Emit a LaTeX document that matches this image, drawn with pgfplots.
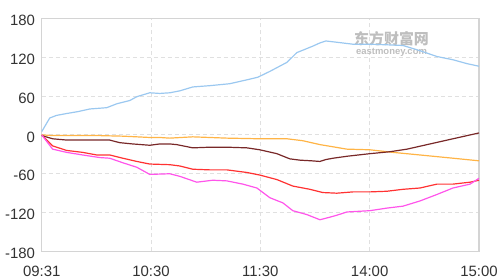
\documentclass[border=0pt]{standalone}
\usepackage{pgfplots}
\pgfplotsset{compat=1.18}
\usepackage{fontspec}
\setmainfont{Liberation Sans}
\newfontfamily\cjk{Noto Sans CJK SC}
\definecolor{cblue}{RGB}{155,200,240}
\definecolor{corange}{RGB}{255,180,70}
\definecolor{cbrown}{RGB}{120,40,40}
\definecolor{cred}{RGB}{255,50,50}
\definecolor{cmag}{RGB}{255,85,235}
\definecolor{txt}{RGB}{51,51,51}
\definecolor{gridc}{RGB}{224,224,224}
\definecolor{axc}{RGB}{212,212,212}
\definecolor{wm}{RGB}{190,190,190}
\begin{document}
\begin{tikzpicture}
\begin{axis}[
  name=ax,
  scale only axis,
  width=437.3bp, height=233.2bp,
  xmin=0, xmax=240, ymin=-180, ymax=180,
  xtick={0,60,120,180,240},
  xticklabels={09:31,10:30,11:30,14:00,15:00},
  ytick={-180,-120,-60,0,60,120,180},
  yticklabels={-180,-120,-60,0,60,120,180},
  major tick length=0pt,
  grid=major,
  major grid style={gridc, line width=0.9bp, dash pattern=on 4bp off 3bp},
  axis line style={axc, line width=1.2bp},
  tick label style={font=\fontsize{15}{18}\selectfont, text=txt, inner sep=0pt},
  yticklabel style={anchor=east, xshift=-6.5bp, yshift=-2bp},
  xticklabel style={anchor=north, yshift=-14.5bp},
  every axis plot/.append style={line width=1.2bp, no markers},
]
\node[text=wm, inner sep=0pt, font=\cjk\bfseries\fontsize{15}{15}\selectfont] at (rel axis cs:0.80,0.912) {东方财富网};
\node[text=wm, inner sep=0pt, font=\bfseries\fontsize{9.5}{10}\selectfont] at (rel axis cs:0.80,0.855) {eastmoney.com};

% blue
\addplot[cblue] coordinates {
(0,5) (4.4,26) (8,30) (13.7,33) (20,36) (26.4,40) (35.7,42) (41.2,48) (48.3,53) (52.2,59) (59.3,65)
(64.8,64) (70.3,65) (75.8,68) (82.9,74) (92.3,76) (103.2,79) (112.6,85) (118.6,89) (125.2,98)
(134.6,112) (140,127) (148.8,137) (152.7,142) (156,145) (162,143) (170.8,140) (180.1,140)
(190,139) (198.3,138) (207.6,130) (216.9,121) (225.7,116) (233.4,110) (240,106)};
% orange
\addplot[corange] coordinates {
(0,0) (6,-1) (30,-1) (45,-2) (59.3,-4) (64.8,-4) (70.3,-5) (82.9,-3) (101.6,-5) (119.7,-6)
(134.6,-6) (143.3,-9) (152.7,-15) (167.5,-22) (180.1,-23) (192.8,-27) (207.6,-31) (225.7,-36) (240,-40)};
% brown
\addplot[cbrown] coordinates {
(0,-1) (6,-6) (13.7,-8) (28,-8) (37.3,-8) (42.8,-12) (50,-14) (59.3,-16) (64.8,-14) (70.3,-14)
(74.1,-15) (82.9,-20) (92.3,-19) (101.6,-19) (112.6,-20) (119.7,-23) (129.1,-29) (136.2,-37)
(141.7,-39) (148,-40) (152.7,-41) (156,-38) (160,-36) (167.5,-33) (180.1,-29) (191.1,-26)
(200.5,-22) (213.1,-14) (225.7,-6) (240,3)};
% red
\addplot[cred] coordinates {
(0,0) (6,-17) (13.7,-24) (22.5,-27) (30.2,-31) (37.3,-31) (44.5,-36) (52.2,-41) (59.3,-45)
(70.3,-46) (75.8,-48) (82.9,-53) (92.3,-54) (101.6,-54) (112.6,-58) (119.7,-62) (129.1,-69)
(137.8,-79) (147.2,-84) (154.3,-89) (162,-90) (170.8,-88) (180.1,-88) (189.5,-87) (198.3,-84)
(207.6,-82) (216.9,-76) (225.7,-76) (235.1,-73) (240,-70)};
% magenta
\addplot[cmag] coordinates {
(0,0) (6,-22) (13.7,-27) (22.5,-31) (31.8,-35) (37.3,-36) (44.5,-43) (52.2,-50) (59.3,-61)
(70.3,-60) (75.8,-64) (85.1,-73) (93.9,-70) (101.6,-71) (110.4,-76) (118.1,-82) (125.2,-97)
(132.4,-105) (137.8,-117) (145.5,-123) (152.7,-131) (158.2,-127) (162,-124) (167.5,-119)
(180.1,-117) (189.5,-113) (198.3,-110) (207.6,-102) (216.9,-92) (225.7,-82) (235.1,-76) (240,-67)};
\end{axis}
\pgfresetboundingbox
\path[use as bounding box] ([shift={(-41.7bp,-28.5bp)}]ax.south west) rectangle ([shift={(20bp,18.3bp)}]ax.north east);
\end{tikzpicture}
\end{document}
